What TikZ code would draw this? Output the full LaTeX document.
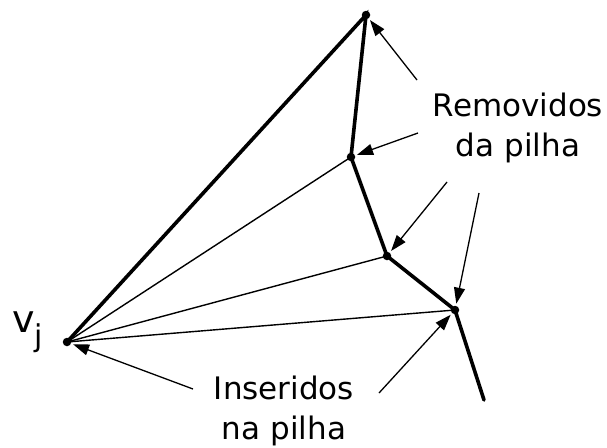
\documentclass[tikz,border=0pt]{standalone}
\usepackage{fontspec}
\setmainfont{DejaVu Sans}
\usetikzlibrary{arrows.meta}
\tikzset{
  edgethick/.style={line width=3.6pt, line cap=round},
  edgethin/.style={line width=1.4pt},
  vtx/.style={circle, fill=black, inner sep=0pt, minimum size=8.5pt},
  pointer/.style={line width=1.3pt, -{Triangle[length=16pt,width=11pt]}, shorten >=2pt},
  lbl/.style={font=\fontsize{31}{40}\selectfont, align=center, inner sep=0pt}
}
\begin{document}
\begin{tikzpicture}[x=1pt, y=-1pt]
  \useasboundingbox (0,0) rectangle (607,447);
  % chain vertices
  \node[vtx] (vj) at (67,342) {};
  \node[vtx] (t)  at (366,15) {};
  \node[vtx] (a)  at (351,157) {};
  \node[vtx] (b)  at (387,256) {};
  \node[vtx] (c)  at (455,310) {};
  \coordinate (e) at (484,400);
  % polygonal chain
  \draw[edgethick] (vj.center) -- (t.center) -- (a.center) -- (b.center) -- (c.center) -- (e);
  % diagonals from v_j
  \draw[edgethin] (vj.center) -- (a.center);
  \draw[edgethin] (vj.center) -- (b.center);
  \draw[edgethin] (vj.center) -- (c.center);
  % labels
  \node[font=\fontsize{38}{38}\selectfont, inner sep=0pt, anchor=base west] (vl) at (12,332) {v\raisebox{-14pt}{\fontsize{30}{30}\selectfont j}};
  \node[lbl] (rem) at (518,128) {Removidos\\da pilha};
  \node[lbl] (ins) at (284,411) {Inseridos\\na pilha};
  % pointers to the removed vertices
  \coordinate (r1) at (417,80);
  \coordinate (r2) at (418,133);
  \coordinate (r3) at (447,182);
  \coordinate (r4) at (479,193);
  \draw[pointer] (r1) -- (t);
  \draw[pointer] (r2) -- (a);
  \draw[pointer] (r3) -- (b);
  \draw[pointer] (r4) -- (c);
  % pointers to the inserted vertices
  \coordinate (i1) at (193,389);
  \coordinate (i2) at (379,393);
  \draw[pointer] (i1) -- (vj);
  \draw[pointer] (i2) -- (c);
\end{tikzpicture}
\end{document}
